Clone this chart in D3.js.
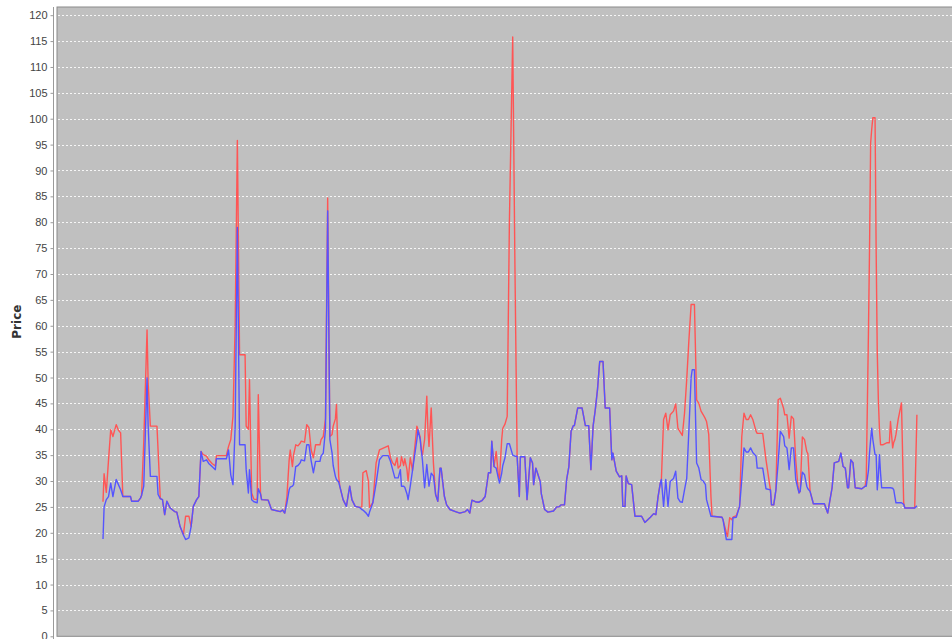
<!DOCTYPE html>
<html>
<head>
<meta charset="utf-8">
<script src="https://cdn.jsdelivr.net/npm/d3@7"></script>
<style>
  html, body { margin: 0; padding: 0; background: #ffffff; }
  svg { display: block; }
</style>
</head>
<body>
<svg id="chart" width="952" height="639"></svg>
<script>
// ---- data ----
const yTicks = [0,5,10,15,20,25,30,35,40,45,50,55,60,65,70,75,80,85,90,95,100,105,110,115,120];
const yLabel = "Price";
const periodCount = 740;

const periods = [0,1,3,5,7,9,12,14,16,18,25,26,32,34,35,37,40,41,43,49,50,52,54,56,58,61,65,67,70,73,75,78,80,82,85,87,89,91,94,96,99,102,103,112,114,116,118,120,122,124,129,130,132,133,135,137,140,141,143,144,150,153,161,163,165,167,169,170,172,173,175,177,179,180,183,185,187,189,191,193,197,198,200,202,204,206,208,209,211,212,214,215,218,221,224,226,229,233,235,236,239,241,242,245,248,251,254,259,261,263,265,267,268,270,271,273,274,276,277,279,281,285,286,288,289,290,292,294,295,296,298,300,302,304,306,307,310,312,315,320,324,329,331,333,335,338,341,344,347,350,352,353,355,357,359,360,362,363,365,367,369,372,374,376,378,379,383,385,388,390,391,393,397,398,401,404,409,412,414,416,419,421,423,425,427,428,431,435,438,441,443,445,447,449,451,454,456,460,462,463,466,469,471,472,474,475,477,480,483,489,492,497,500,502,504,506,507,509,511,513,515,518,520,522,524,526,528,530,532,534,535,537,539,541,543,545,547,548,550,552,553,562,563,566,567,569,571,572,575,578,580,582,584,586,588,590,593,594,599,602,606,607,609,611,613,615,618,619,621,623,625,627,629,631,632,633,635,637,639,640,642,645,655,658,662,664,668,670,672,674,676,677,679,681,683,689,692,693,695,696,697,698,699,701,702,703,704,705,706,707,708,712,714,715,717,718,719,720,722,725,727,728,737,739];

const bluePrice = [18.8,25,26.4,27,29.6,27,30.3,29.3,28.3,27,27,26.1,26.1,26.7,27.2,29,49.9,40.6,30.9,30.9,27.4,26.6,26.4,23.5,26.1,24.8,24.1,24,21.2,19.6,18.7,19,21.2,25.1,26.4,27,35.7,33.8,34.1,33.4,32.8,32.2,34.3,34.3,36,31.2,29.3,40.6,79,37,37,32.2,27.7,32.2,26.4,26,25.8,28.5,27.5,26.4,26.3,24.5,24.1,24.4,23.8,25.8,28.3,28.8,29,29.3,32.8,33,33.5,34.1,33.9,37,37,33.9,31.6,33.8,33.8,34.8,35.4,39.9,82.2,38,35.4,33,30.9,30.3,29.8,29,26.4,25.1,29,26.4,25.1,24.9,24.5,24.4,23.8,23.2,24,25.8,29.6,34.1,34.9,34.9,33.8,32.2,30.6,30.6,30.6,32.2,29,29,28.8,27.5,26.4,29,32,38,39.9,38,36,34.1,28.7,33.2,31,29,31.5,31,27.4,26.1,32.5,32.5,27,25.4,24.5,24.1,23.8,24.1,24.5,23.8,26.3,26,25.9,26.2,27,31.6,31.6,37.7,32.8,32.5,30.5,29.6,31.5,33,34.5,37.2,37.2,35,34.8,34.8,27,34.7,34.7,26.4,34.5,33.5,29.3,32.5,29.9,27.5,24.5,24,24.2,25,25,25.4,25.4,30.3,32.8,39.6,40.7,40.7,44.1,44.1,40.7,40.7,32.2,40.6,43.8,47.7,53.1,53.1,44.1,44.1,34.1,35.4,31.9,30.8,31,25.1,25.1,31,29.5,29.3,23.2,23.2,22,23,23.7,23.5,27,29.6,30.3,25.1,30.3,25.1,29.9,30.5,31.9,26.7,26,25.9,28.3,30.5,40,50,51.5,51.5,33.5,32.5,30.3,30,29.3,26.4,24.8,23.2,23.2,23,22.5,18.7,18.7,18.7,18.7,22.9,23,25.1,30.3,36.4,35.6,35.6,36.4,35.5,34.8,32.5,32.5,28.5,28.3,25.4,25.4,28.3,33.5,39.6,38.6,36.8,36.4,32.2,36.4,36.4,30.3,28.5,27.7,28,31.7,31.2,29,28.5,28,25.6,25.6,23.8,28.7,33.5,33.8,35.4,32.8,32.5,28.7,28.7,34.1,33.5,28.7,28.5,29,29,32,35.4,38,40.2,38,35.1,35.1,28.3,31,35.1,31.5,28.7,28.7,28.7,28.7,28.7,28.6,28.3,27,25.8,25.8,25.8,25.5,24.8,24.8,25.2];

const redPrice = [26,31.4,27.8,34,39.9,38.6,40.9,39.8,39.3,27,27,26.1,26.1,26.7,27.2,37.4,59.2,49,40.6,40.6,36,26.6,26.4,23.5,26.1,24.8,24.1,24,21.2,19.6,23.2,23.2,21.2,25.1,26.4,27,35.7,35.1,34.8,34.1,33.4,32.9,34.9,34.9,36.7,38,42.5,60,95.8,54.4,54.4,40.6,40,49.6,27.7,26.5,26.4,46.7,27.7,26.4,26.3,24.5,24.1,24.4,23.8,27,34,36,32.8,35,37,36.8,37.3,37.7,37.5,40.9,40.3,36,34.5,37,37,38,38.6,42,84.7,38.6,39,40.6,42,44.8,30.9,29,26.4,25.1,29,26.4,25.1,24.9,25,31.6,32,30,24.9,25.8,33.5,36,36.3,36.8,34.5,33.5,33,34.5,32.5,33,34.7,33,34.3,32.2,30,34.5,32,40.6,39.9,38.5,36,35,38,46.4,40,36.7,44.1,33.5,27.4,26.1,32.5,32.5,27,25.4,24.5,24.1,23.8,24.1,24.5,23.8,26.3,26,25.9,26.2,27,31.6,31.6,37.7,32.8,35.7,31,30.5,38,40.2,41,42.5,80,115.8,72,34.8,27,34.7,34.7,26.4,34.5,33.5,29.3,32.5,29.9,27.5,24.5,24,24.2,25,25,25.4,25.4,30.3,32.8,39.6,40.7,40.7,44.1,44.1,40.7,40.7,32.2,40.6,43.8,47.7,53.1,53.1,44.1,44.1,34.1,35.4,31.9,30.8,31,25.1,25.1,31,29.5,29.3,23.2,23.2,22,23,23.7,23.5,27,29.6,30.3,41.9,43.1,39.9,42.8,43.5,44.9,40.2,39.5,38.8,43.1,49.6,57.3,64.1,64.1,64.1,45.7,45,43.5,42.8,42,41.5,39,27,23.2,23,22.5,20,19.3,22.9,22.5,23,23.3,25.1,38.6,43.1,41.9,41.9,42.8,41.9,39.6,39.2,39.2,34.1,28.3,25.4,25.4,28.3,45.7,46,44,42.8,42.8,38.3,42.5,42,34,29,27.7,28,38.5,38,35.7,35.3,28,25.6,25.6,23.8,28.7,33.5,33.8,35.4,32.8,32.5,28.7,28.7,34.1,33.5,28.7,28.5,29,30.3,58.6,75,95.3,98,100.2,100.2,74.7,55,45.7,40,37,37,37,37.4,37.4,41.5,36.4,37.5,38,39,41.9,45.1,25.8,24.8,24.8,42.8];

// ---- layout ----
const svg = d3.select("#chart");
const plot = { left: 57, top: 7, right: 960, bottom: 636.3 };

const x = d3.scaleLinear().domain([0, periodCount]).range([103, 918]);
const y = d3.scaleLinear().domain([0, 120]).range([636.3, 15.2]);

// plot background
svg.append("rect")
  .attr("x", plot.left).attr("y", plot.top)
  .attr("width", plot.right - plot.left).attr("height", plot.bottom - plot.top)
  .attr("fill", "#c0c0c0")
  .attr("stroke", "#8a8a8a").attr("stroke-width", 1);

// gridlines
svg.append("g").selectAll("line")
  .data(yTicks.filter(d => d > 0))
  .join("line")
  .attr("x1", plot.left + 1).attr("x2", plot.right)
  .attr("y1", d => Math.round(y(d)) + 0.5).attr("y2", d => Math.round(y(d)) + 0.5)
  .attr("stroke", "#ffffff").attr("stroke-opacity", 0.85)
  .attr("stroke-width", 1)
  .attr("stroke-dasharray", "2,2");

// y axis
const yAxis = d3.axisLeft(y).tickValues(yTicks).tickSize(3).tickPadding(3).tickSizeOuter(0);
const gy = svg.append("g").attr("transform", "translate(53.5,0)").call(yAxis);
gy.select(".domain").attr("stroke", "#9a9a9a").attr("d", `M0,${plot.top}V${plot.bottom + 4}`);
gy.selectAll(".tick line").attr("stroke", "#9a9a9a");
gy.selectAll(".tick text")
  .attr("fill", "#444444")
  .style("font-family", "'Liberation Sans', Arial, sans-serif")
  .style("font-size", "11px");

svg.append("text")
  .attr("transform", `translate(21,${(plot.top + plot.bottom) / 2}) rotate(-90)`)
  .attr("text-anchor", "middle")
  .style("font-family", "'DejaVu Sans', Verdana, sans-serif")
  .style("font-size", "12px")
  .style("font-weight", "bold")
  .attr("fill", "#333333")
  .text(yLabel);

// lines
const clip = svg.append("clipPath").attr("id", "plotclip")
  .append("rect").attr("x", plot.left).attr("y", plot.top)
  .attr("width", plot.right - plot.left).attr("height", plot.bottom - plot.top);

const line = vals => d3.line()
  .x((d, i) => x(periods[i]))
  .y((d) => y(d))(vals);

const g = svg.append("g").attr("clip-path", "url(#plotclip)");
g.append("path").attr("d", line(redPrice))
  .attr("fill", "none").attr("stroke", "#ff5555").attr("stroke-width", 1.4)
  .attr("stroke-linejoin", "round");
g.append("path").attr("d", line(bluePrice))
  .attr("fill", "none").attr("stroke", "#5555ff").attr("stroke-width", 1.4)
  .attr("stroke-linejoin", "round");
</script>
</body>
</html>
